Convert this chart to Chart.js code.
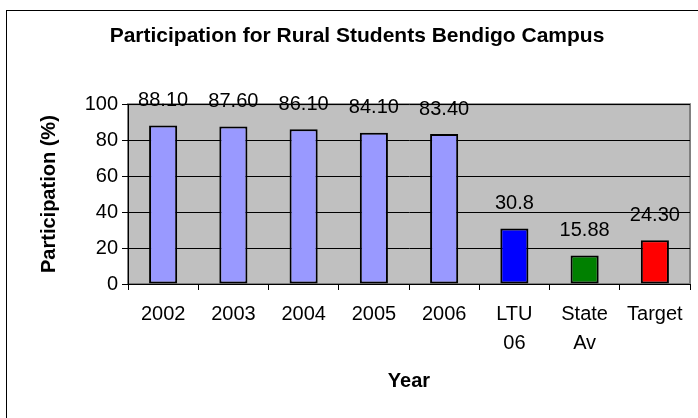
<!DOCTYPE html>
<html>
<head>
<meta charset="utf-8">
<script src="https://cdn.jsdelivr.net/npm/chart.js@4"></script>
<style>
  html, body { margin: 0; padding: 0; background: #fff; }
  #wrap { width: 698px; height: 418px; }
</style>
</head>
<body>
<div id="wrap"><canvas id="chart" width="698" height="418"></canvas></div>
<script>
// data
const categories = ["2002", "2003", "2004", "2005", "2006", ["LTU", "06"], ["State", "Av"], "Target"];
const participation = [88.1, 87.6, 86.1, 84.1, 83.4, 30.8, 15.88, 24.3];
const valueLabels = ["88.10", "87.60", "86.10", "84.10", "83.40", "30.8", "15.88", "24.30"];
const barColors = ["#9999FF", "#9999FF", "#9999FF", "#9999FF", "#9999FF", "#0000FF", "#008000", "#FF0000"];
const yTicks = [0, 20, 40, 60, 80, 100];

const FONT = "Arial, 'Liberation Sans', sans-serif";

// grey plot area + outer frame
const backgroundPlugin = {
  id: "plotBackground",
  beforeDraw(chart) {
    const { ctx, chartArea: a } = chart;
    ctx.save();
    ctx.fillStyle = "#fff";
    ctx.fillRect(0, 0, chart.width, chart.height);
    ctx.strokeStyle = "#000";
    ctx.lineWidth = 1;
    ctx.strokeRect(6.5, 10.5, chart.width, chart.height);
    ctx.fillStyle = "#C0C0C0";
    ctx.fillRect(a.left, a.top, a.right - a.left, a.bottom - a.top);
    ctx.strokeStyle = "#808080";
    ctx.lineWidth = 2;
    ctx.strokeRect(a.left, a.top, a.right - a.left, a.bottom - a.top);
    ctx.restore();
  },
};

// value labels above each bar
const valueLabelPlugin = {
  id: "valueLabels",
  afterDatasetsDraw(chart) {
    const { ctx } = chart;
    const meta = chart.getDatasetMeta(0);
    ctx.save();
    ctx.font = "20px " + FONT;
    ctx.fillStyle = "#000";
    ctx.textAlign = "center";
    ctx.textBaseline = "middle";
    meta.data.forEach((bar, i) => {
      ctx.fillText(valueLabels[i], bar.x, bar.y - 25);
    });
    ctx.restore();
  },
};

new Chart(document.getElementById("chart"), {
  type: "bar",
  data: {
    labels: categories,
    datasets: [
      {
        data: participation,
        backgroundColor: barColors,
        borderColor: "#000",
        borderWidth: 2,
        borderSkipped: false,
        barPercentage: 0.4,
        categoryPercentage: 1,
      },
    ],
  },
  options: {
    responsive: false,
    animation: false,
    devicePixelRatio: 1,
    layout: { padding: { left: 24, right: 8, top: 0, bottom: 0 } },
    plugins: {
      legend: { display: false },
      tooltip: { enabled: false },
      title: {
        display: true,
        text: "Participation for Rural Students Bendigo Campus",
        color: "#000",
        font: { family: FONT, size: 21, weight: "bold" },
        padding: { top: 24, bottom: 55 },
      },
    },
    scales: {
      x: {
        offset: true,
        grid: {
          offset: true,
          drawOnChartArea: false,
          drawTicks: true,
          tickLength: 6,
          color: "#000",
        },
        border: { color: "#000", width: 1 },
        ticks: {
          color: "#000",
          font: { family: FONT, size: 20, lineHeight: 1.45 },
          padding: 10,
          maxRotation: 0,
          autoSkip: false,
        },
        title: {
          display: true,
          text: "Year",
          color: "#000",
          font: { family: FONT, size: 20, weight: "bold" },
          padding: { top: 0, bottom: 25 },
        },
        afterFit(scale) {
          scale.height = 134;
        },
      },
      y: {
        min: 0,
        max: 100,
        afterBuildTicks(scale) {
          scale.ticks = yTicks.map((v) => ({ value: v }));
        },
        grid: { color: "#000", lineWidth: 1, tickLength: 6 },
        border: { color: "#000", width: 1 },
        ticks: {
          color: "#000",
          font: { family: FONT, size: 20 },
          padding: 4,
        },
        title: {
          display: true,
          text: "Participation (%)",
          color: "#000",
          font: { family: FONT, size: 20, weight: "bold" },
          padding: { top: 13, bottom: 0 },
        },
        afterFit(scale) {
          scale.width = 104;
        },
      },
    },
  },
  plugins: [backgroundPlugin, valueLabelPlugin],
});
</script>
</body>
</html>
